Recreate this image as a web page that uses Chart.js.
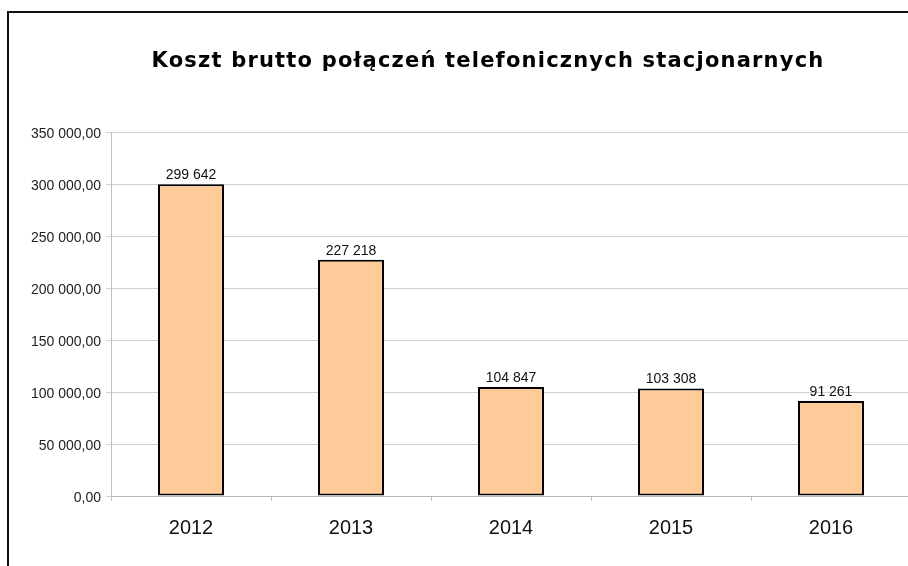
<!DOCTYPE html>
<html>
<head>
<meta charset="utf-8">
<script src="https://cdn.jsdelivr.net/npm/chart.js@4.4.1/dist/chart.umd.min.js"></script>
<style>
  html, body { margin: 0; padding: 0; background: #fff; overflow: hidden; width: 908px; height: 566px; }
  #frame { position: absolute; left: 7px; top: 11px; width: 1000px; height: 700px; border-left: 2px solid #111; border-top: 2px solid #111; }
  #wrap { position: absolute; left: 0; top: 0; width: 920px; height: 566px; }
</style>
</head>
<body>
<div id="frame"></div>
<div id="wrap"><canvas id="c" width="920" height="566"></canvas></div>
<script>
const titleText = 'Koszt brutto połączeń telefonicznych stacjonarnych';
const categories = ['2012', '2013', '2014', '2015', '2016'];
const values = [299642, 227218, 104847, 103308, 91261];
const yMax = 350000;
const yStep = 50000;

function groupThousands(n) {
  return String(Math.round(n)).replace(/\B(?=(\d{3})+(?!\d))/g, ' ');
}

const valueLabels = {
  id: 'valueLabels',
  afterDatasetsDraw(chart) {
    const ctx = chart.ctx;
    const meta = chart.getDatasetMeta(0);
    ctx.save();
    ctx.font = '14px "Liberation Sans", Arial, sans-serif';
    ctx.fillStyle = '#111';
    ctx.textAlign = 'center';
    ctx.textBaseline = 'bottom';
    meta.data.forEach((bar, i) => {
      ctx.fillText(groupThousands(chart.data.datasets[0].data[i]), bar.x, bar.y - 2);
    });
    ctx.restore();
  }
};

const chartTitle = {
  id: 'chartTitle',
  afterDraw(chart) {
    const ctx = chart.ctx;
    ctx.save();
    ctx.font = 'bold 21px "DejaVu Sans", Verdana, sans-serif';
    if ('letterSpacing' in ctx) ctx.letterSpacing = '1.2px';
    ctx.fillStyle = '#000';
    ctx.textAlign = 'center';
    ctx.textBaseline = 'alphabetic';
    ctx.fillText(titleText, 488, 67);
    ctx.restore();
  }
};

new Chart(document.getElementById('c'), {
  type: 'bar',
  data: {
    labels: categories,
    datasets: [{
      data: values,
      backgroundColor: '#ffcc99',
      borderColor: '#000',
      borderWidth: 2,
      borderSkipped: false,
      categoryPercentage: 1,
      barPercentage: 0.4125
    }]
  },
  options: {
    responsive: false,
    animation: false,
    devicePixelRatio: 1,
    layout: { padding: { left: 0, right: 9, top: 132, bottom: 0 } },
    plugins: {
      legend: { display: false },
      tooltip: { enabled: false },
      title: { display: false }
    },
    scales: {
      x: {
        grid: { display: true, drawOnChartArea: false, drawTicks: true, tickLength: 5, color: '#c0c0c0', offset: true },
        border: { display: true, color: '#b8b8b8', width: 1 },
        ticks: { color: '#111', padding: 15, font: { family: '"Liberation Sans", Arial, sans-serif', size: 20 } },
        afterFit(s) { s.height = 70; }
      },
      y: {
        min: 0,
        max: yMax,
        ticks: {
          stepSize: yStep,
          color: '#222',
          padding: 5,
          labelOffset: 2,
          font: { family: '"Liberation Sans", Arial, sans-serif', size: 14 },
          callback: (v) => groupThousands(v) + ',00'
        },
        grid: { color: '#d0d0d0', tickLength: 5, drawTicks: true },
        border: { display: true, color: '#c0c0c0', width: 1 },
        afterFit(s) { s.width = 111; }
      }
    }
  },
  plugins: [valueLabels, chartTitle]
});
</script>
</body>
</html>
